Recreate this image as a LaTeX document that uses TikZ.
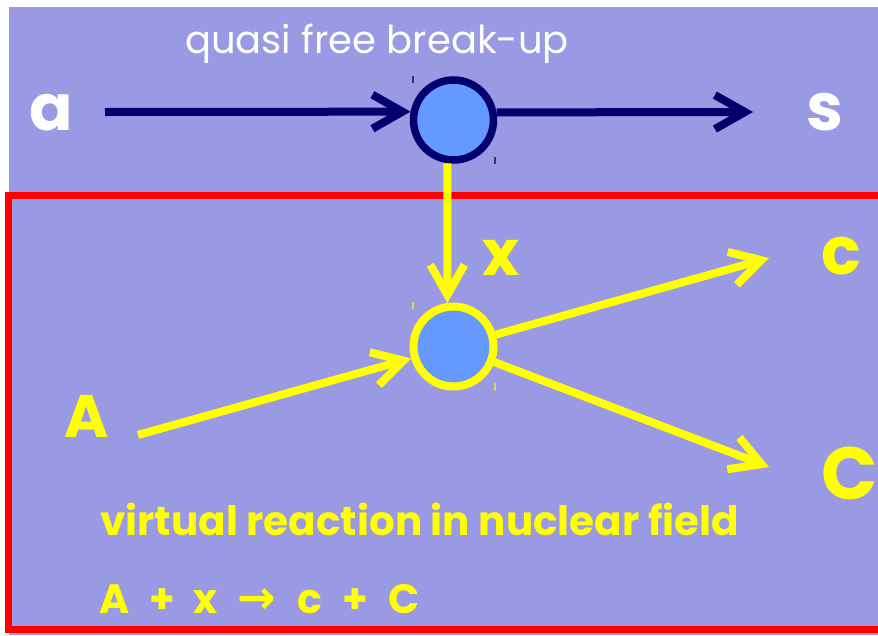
\documentclass[tikz,border=0pt]{standalone}
\usepackage{fontspec}
\setmainfont{Poppins}
\newfontfamily\symfont{DejaVu Sans}
\usetikzlibrary{arrows.meta}
\definecolor{lav}{RGB}{153,153,228}
\definecolor{navy}{RGB}{0,0,110}
\definecolor{cfill}{RGB}{102,153,255}
\definecolor{yel}{RGB}{255,255,0}
\newcommand\fsz[1]{\fontsize{#1}{#1}\selectfont}
\begin{document}
\begin{tikzpicture}[x=1pt,y=-1pt,
  navyline/.style={draw=navy,line width=8pt},
  yelline/.style={draw=yel,line width=8pt},
  barb/.style={-{Straight Barb[length=30pt,width=34pt]}},
  vertex/.style={circle,fill=cfill,inner sep=0pt,minimum size=80pt,line width=8pt},
  lbl/.style={inner sep=0pt,anchor=base west},
  tick/.style={line width=1.5pt}
]
\useasboundingbox (0,0) rectangle (878,635);
\fill[white] (0,0) rectangle (878,635);
\fill[lav] (9,7) rectangle (878,635);
\draw[red,line width=7pt] (8.5,195.5) rectangle (890,629.5);

\node[vertex,draw=navy,line width=7.5pt,minimum size=80pt] (c1) at (453.5,120) {};
\node[vertex,draw=yel] (c2) at (453.5,346.5) {};

% selection ticks
\draw[tick,draw=navy!70!lav] (413,76) -- (413,83);
\draw[tick,draw=navy!70!lav] (495,157) -- (495,164);
\draw[tick,draw=yel!60!lav] (413,302) -- (413,309);
\draw[tick,draw=yel!60!lav] (495,383) -- (495,391);

\coordinate (aS) at (105,112);
\coordinate (sT) at (753,112);
\coordinate (AS) at (138,435);
\coordinate (cT) at (769,258);
\coordinate (CT) at (769,467);

\draw[navyline,barb] (aS) -- (c1.169.5);
\draw[navyline,barb] (c1.10.5) -- (sT);
\draw[yelline,barb] (c1.-98.5) -- (c2.98.5);
\draw[yelline,barb] (AS) -- (c2);
\draw[yelline,barb] (c2) -- (cT);
\draw[yelline,barb] (c2) -- (CT);

\node[lbl,white,font=\fsz{38.5}] (title) at (185,53) {quasi free break-up};
\node[lbl,white,font=\bfseries\fsz{64}] (la) at (29,130) {a};
\node[lbl,white,font=\bfseries\fsz{66}] (ls) at (806,130) {s};
\node[lbl,yel,font=\bfseries\fsz{63}] (lx) at (482,275) {x};
\node[lbl,yel,font=\bfseries\fsz{66}] (lc) at (821,274) {c};
\node[lbl,yel,font=\bfseries\fsz{60}] (lA) at (64,437) {A};
\node[lbl,yel,font=\bfseries\fsz{74}] (lC) at (821,499) {C};
\node[lbl,yel,font=\bfseries\fsz{40.5}] (vr) at (100,535) {virtual reaction in nuclear field};
\node[lbl,yel,font=\bfseries\fsz{41}] (eq) at (99,613) {A\hspace{20pt}+\hspace{18pt}x\hspace{20pt}{\symfont\bfseries\fsz{46}→}\hspace{22pt}c\hspace{20pt}+\hspace{20pt}C};
\end{tikzpicture}
\end{document}
